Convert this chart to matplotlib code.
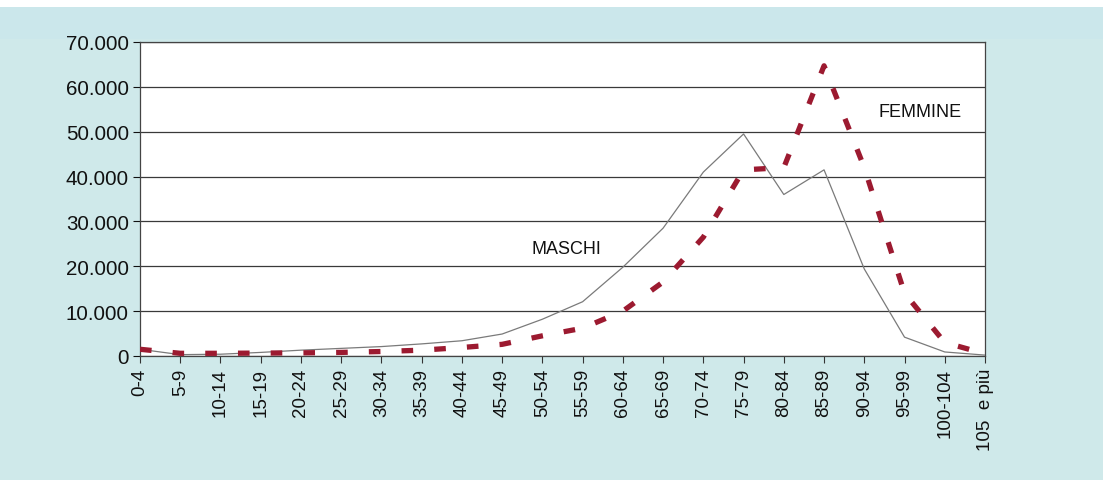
import matplotlib
matplotlib.use("Agg")
import matplotlib.pyplot as plt
from matplotlib.patches import Rectangle
from matplotlib.ticker import FuncFormatter, MultipleLocator

categories = ["0-4", "5-9", "10-14", "15-19", "20-24", "25-29", "30-34", "35-39",
              "40-44", "45-49", "50-54", "55-59", "60-64", "65-69", "70-74", "75-79",
              "80-84", "85-89", "90-94", "95-99", "100-104", "105  e più"]
maschi = [1500, 300, 400, 800, 1300, 1700, 2100, 2700, 3400, 4900, 8200, 12100,
          19800, 28500, 41000, 49500, 36000, 41500, 19400, 4200, 900, 200]
femmine = [1500, 600, 600, 650, 700, 800, 1000, 1300, 1900, 2600, 4500, 6200,
           10000, 16500, 26500, 41500, 42000, 64700, 42000, 14000, 3000, 500]

plt.rcParams['font.family'] = ['Liberation Sans', 'DejaVu Sans']

bg = '#cfe9ea'
fig = plt.figure(figsize=(11.03, 4.81), dpi=100, facecolor=bg)
fig.patches.append(Rectangle((0, 1 - 8/481), 1, 8/481, transform=fig.transFigure,
                             facecolor='white', edgecolor='none', zorder=-5))
fig.patches.append(Rectangle((0, 1 - 40/481), 1, 32/481, transform=fig.transFigure,
                             facecolor='#cbe7eb', edgecolor='none', zorder=-5))
ax = fig.add_axes([140/1103, 1 - 357/481, (985 - 140)/1103, (357 - 43)/481])
ax.set_facecolor('white')

x = list(range(len(categories)))
ax.plot(x, maschi, color='#7a7a7a', lw=0.9, zorder=3)
ax.plot(x, femmine, color='#9c1a30', lw=3.8, linestyle=(0, (2.2, 4.0)),
        dash_capstyle='butt', zorder=4)

ax.set_xlim(0, len(categories) - 1)
ax.set_ylim(0, 70000)
ax.yaxis.set_major_locator(MultipleLocator(10000))
ax.yaxis.set_major_formatter(FuncFormatter(lambda v, p: f"{int(v):,}".replace(",", ".")))
ax.set_xticks(x)
ax.set_xticklabels(categories, rotation=90, fontsize=13.5, color='#111111')
ax.tick_params(axis='y', labelsize=14.8, colors='#111111', length=5, width=0.8,
               direction='out', pad=3)
ax.tick_params(axis='x', length=5, width=0.8, direction='out', colors='#333333',
               labelcolor='#111111')
ax.grid(axis='y', color='#3a3a3a', lw=0.9, zorder=1)
ax.set_axisbelow(True)
for s in ax.spines.values():
    s.set_color('#444444')
    s.set_linewidth(0.9)

fig.text(566/1103, 1 - 250/481, "MASCHI", fontsize=13, ha='center', va='center', color='#111111')
fig.text(920/1103, 1 - 113/481, "FEMMINE", fontsize=13, ha='center', va='center', color='#111111')

fig.savefig("out.png", dpi=100, facecolor=bg)
